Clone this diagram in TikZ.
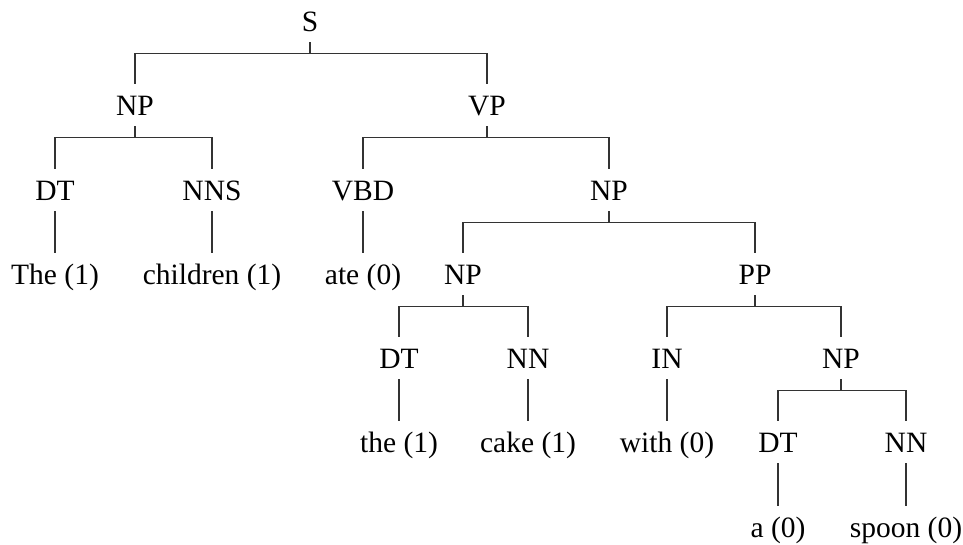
\documentclass[tikz,border=0pt]{standalone}
\usepackage{fontspec}
\setmainfont{Liberation Serif}
\begin{document}
\begin{tikzpicture}[x=1pt,y=-1pt,
  lbl/.style={font=\fontsize{29.5}{35}\selectfont, inner sep=0pt, anchor=base, text height=20pt, text depth=0pt},
  edge/.style={draw=black!80, line width=1.3pt}]
\useasboundingbox (0,0) rectangle (963,544);
% level 0
\node[lbl] (S) at (310,31) {S};
% level 1
\node[lbl] (NPa) at (135,115) {NP};
\node[lbl] (VP) at (487,115) {VP};
% level 2
\node[lbl] (DTa) at (55,200) {DT};
\node[lbl] (NNS) at (212,200) {NNS};
\node[lbl] (VBD) at (363,200) {VBD};
\node[lbl] (NPb) at (609,200) {NP};
% level 3
\node[lbl] (The) at (55,284) {The (1)};
\node[lbl] (children) at (212,284) {children (1)};
\node[lbl] (ate) at (363,284) {ate (0)};
\node[lbl] (NPc) at (463,284) {NP};
\node[lbl] (PP) at (755,284) {PP};
% level 4
\node[lbl] (DTb) at (399,368) {DT};
\node[lbl] (NNa) at (528,368) {NN};
\node[lbl] (IN) at (667,368) {IN};
\node[lbl] (NPd) at (841,368) {NP};
% level 5
\node[lbl] (the) at (399,452) {the (1)};
\node[lbl] (cake) at (528,452) {cake (1)};
\node[lbl] (with) at (667,452) {with (0)};
\node[lbl] (DTc) at (778,452) {DT};
\node[lbl] (NNb) at (906,452) {NN};
% level 6
\node[lbl] (a) at (778,537) {a (0)};
\node[lbl] (spoon) at (906,537) {spoon (0)};
% branching connectors
\foreach \p/\l/\r in {S/NPa/VP, NPa/DTa/NNS, VP/VBD/NPb, NPb/NPc/PP, NPc/DTb/NNa, PP/IN/NPd, NPd/DTc/NNb}{
  \draw[edge] ([yshift=-11pt]\p.south) -- ([yshift=-22pt]\p.south);
  \draw[edge] ([yshift=11pt]\l.north) |- ([yshift=-22pt]\p.south) -| ([yshift=11pt]\r.north);
}
% unary connectors
\foreach \p/\c in {DTa/The, NNS/children, VBD/ate, DTb/the, NNa/cake, IN/with, DTc/a, NNb/spoon}{
  \draw[edge] ([yshift=-11pt]\p.south) -- ([yshift=11pt]\c.north);
}
\end{tikzpicture}
\end{document}
